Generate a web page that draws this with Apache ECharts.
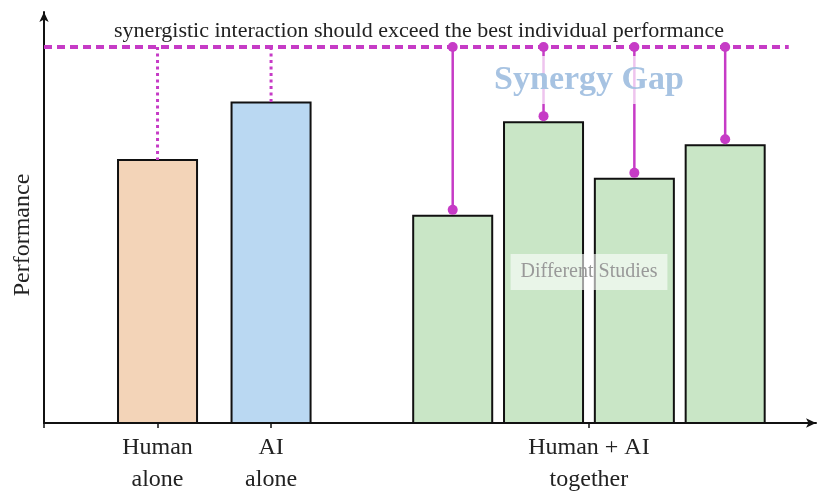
<!DOCTYPE html>
<html>
<head>
<meta charset="utf-8">
<script src="https://cdn.jsdelivr.net/npm/echarts@6/dist/echarts.min.js"></script>
<style>
  html, body { margin: 0; padding: 0; background: #fff; }
  #chart { width: 818px; height: 491px; }
</style>
</head>
<body>
<div id="chart"></div>
<script>
// Bar values (performance, arbitrary units 0..100)
var humanValue = 64;
var aiValue = 78;
var togetherValues = [50.4, 73.2, 59.4, 67.6];
var synergyTarget = 91.5;            // dashed "best individual" threshold

// Bar positions along the x axis
var humanX = 1.25;
var aiX = 2.5;
var togetherX = [4.5, 5.5, 6.5, 7.5];
var targetSpan = [0, 8.2];           // extent of the dashed line

// Tick labels
var tickValues = [1.25, 2.5, 6];
var tickLabels = ["Human\nalone", "AI\nalone", "Human + AI\ntogether"];

var barWidth = 0.87;
var magenta = '#c63bc6';
var font = 'Liberation Serif';

var chart = echarts.init(document.getElementById('chart'));

// Draws one outlined bar
function renderBar(params, api) {
  var x = api.value(0), v = api.value(1);
  var top = api.coord([x, v]);
  var base = api.coord([x, 0]);
  var w = api.size([barWidth, 0])[0];
  return {
    type: 'rect',
    shape: { x: top[0] - w / 2, y: top[1], width: w, height: base[1] - top[1] },
    style: { fill: api.visual('color'), stroke: '#111', lineWidth: 2 }
  };
}

// Dotted line from an individual bar up to the threshold
function renderDotted(params, api) {
  var x = api.value(0), v = api.value(1);
  var top = api.coord([x, synergyTarget]);
  var bot = api.coord([x, v]);
  return {
    type: 'line',
    shape: { x1: top[0], y1: top[1], x2: bot[0], y2: bot[1] },
    style: { stroke: magenta, lineWidth: 3, lineDash: [3, 3.5] }
  };
}

// Solid gap line with end dots for the together bars
function renderGap(params, api) {
  var x = api.value(0), v = api.value(1);
  var top = api.coord([x, synergyTarget]);
  var bot = api.coord([x, v]);
  var y2 = bot[1] - 6;
  return {
    type: 'group',
    children: [
      { type: 'line', shape: { x1: top[0], y1: top[1], x2: top[0], y2: y2 },
        style: { stroke: magenta, lineWidth: 2.5 } },
      { type: 'circle', shape: { cx: top[0], cy: top[1], r: 5 }, style: { fill: magenta } },
      { type: 'circle', shape: { cx: top[0], cy: y2, r: 5 }, style: { fill: magenta } }
    ]
  };
}

// Dashed threshold line
function renderTarget(params, api) {
  var a = api.coord([api.value(0), api.value(2)]);
  var b = api.coord([api.value(1), api.value(2)]);
  return {
    type: 'line',
    shape: { x1: a[0], y1: a[1], x2: b[0], y2: b[1] },
    style: { stroke: magenta, lineWidth: 4, lineDash: [8, 5] }
  };
}

var option = {
  animation: false,
  grid: { left: 44, right: 2, top: 12, bottom: 68, outerBoundsMode: 'none' },
  xAxis: {
    type: 'value',
    min: 0,
    max: 8.5,
    splitLine: { show: false },
    axisLine: {
      lineStyle: { color: '#111', width: 2 },
      symbol: ['none', 'arrow'],
      symbolSize: [7, 10]
    },
    axisTick: {
      customValues: [0].concat(tickValues),
      length: 5,
      lineStyle: { color: '#111', width: 1.5 }
    },
    axisLabel: {
      customValues: tickValues,
      formatter: function (val) {
        var i = tickValues.indexOf(val);
        return i >= 0 ? tickLabels[i] : '';
      },
      fontFamily: font,
      fontSize: 24,
      color: '#222',
      lineHeight: 32,
      margin: 9
    }
  },
  yAxis: {
    type: 'value',
    min: 0,
    max: 100,
    splitLine: { show: false },
    axisTick: { show: false },
    axisLabel: { show: false },
    axisLine: {
      show: true,
      lineStyle: { color: '#111', width: 2 },
      symbol: ['none', 'arrow'],
      symbolSize: [7, 10]
    }
  },
  series: [
    {
      type: 'custom', name: 'Human alone', renderItem: renderBar,
      itemStyle: { color: '#f3d4b8' },
      data: [[humanX, humanValue]], z: 2
    },
    {
      type: 'custom', name: 'AI alone', renderItem: renderBar,
      itemStyle: { color: '#bad8f2' },
      data: [[aiX, aiValue]], z: 2
    },
    {
      type: 'custom', name: 'Human + AI together', renderItem: renderBar,
      itemStyle: { color: '#c9e6c6' },
      data: togetherX.map(function (x, i) { return [x, togetherValues[i]]; }), z: 2
    },
    {
      type: 'custom', name: 'individual', renderItem: renderDotted,
      data: [[humanX, humanValue], [aiX, aiValue]], z: 3
    },
    {
      type: 'custom', name: 'threshold', renderItem: renderTarget,
      data: [[targetSpan[0], targetSpan[1], synergyTarget]], z: 4
    },
    {
      type: 'custom', name: 'gap', renderItem: renderGap,
      data: togetherX.map(function (x, i) { return [x, togetherValues[i]]; }), z: 5
    }
  ],
  graphic: [
    {
      // y axis title
      type: 'text', x: 23, y: 235, rotation: Math.PI / 2, z: 10,
      style: {
        text: 'Performance', align: 'center', verticalAlign: 'middle',
        font: '24px "Liberation Serif"', fill: '#222'
      }
    },
    {
      type: 'text', x: 419, y: 31, z: 10,
      style: {
        text: 'synergistic interaction should exceed the best individual performance',
        align: 'center', verticalAlign: 'middle',
        font: '22px "Liberation Serif"', fill: '#222'
      }
    },
    {
      type: 'text', x: 589, y: 80, z: 10,
      style: {
        text: 'Synergy Gap', align: 'center', verticalAlign: 'middle',
        font: 'bold 34px "Liberation Serif"', fill: '#a7c3e2',
        backgroundColor: 'rgba(255,255,255,0.7)', padding: [7, 2]
      }
    },
    {
      type: 'text', x: 589, y: 272, z: 10,
      style: {
        text: 'Different Studies', align: 'center', verticalAlign: 'middle',
        font: '20px "Liberation Serif"', fill: '#999',
        backgroundColor: 'rgba(255,255,255,0.6)', padding: [8, 10]
      }
    }
  ]
};

chart.setOption(option);
</script>
</body>
</html>
